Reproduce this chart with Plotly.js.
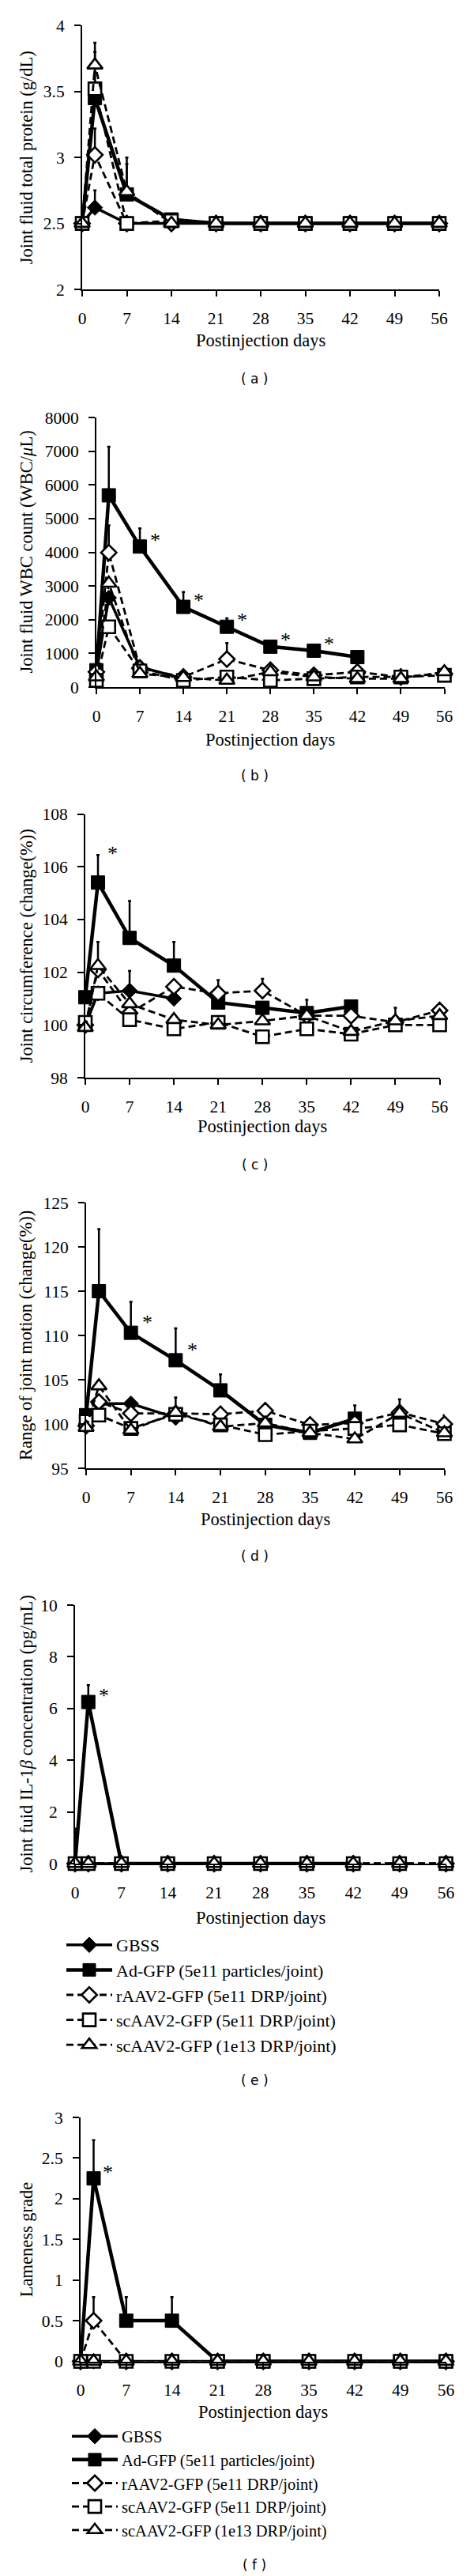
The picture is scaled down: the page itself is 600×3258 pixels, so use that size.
<!DOCTYPE html>
<html><head><meta charset="utf-8">
<script src="https://cdn.plot.ly/plotly-3.0.1.min.js"></script>
<style>html,body{margin:0;padding:0;background:#fff}#chart{width:600px;height:3258px}</style>
</head><body><div id="chart"></div>
<script>
// ---------- data ----------
const days = [0, 2, 7, 14, 21, 28, 35, 42, 49, 56];
const dayTicks = [0, 7, 14, 21, 28, 35, 42, 49, 56];
const seriesNames = ["GBSS", "Ad-GFP (5e11 particles/joint)", "rAAV2-GFP (5e11 DRP/joint)", "scAAV2-GFP (5e11 DRP/joint)", "scAAV2-GFP (1e13 DRP/joint)"];

// (a) joint fluid total protein (g/dL)
const gbssA = [2.5, 2.62, 2.5, 2.5, 2.5, 2.5, 2.5, 2.5, 2.5, 2.5];
const gbssAErr = [0, 0.13, 0, 0, 0, 0, 0, 0, 0, 0];
const adA = [2.5, 3.45, 2.72, 2.53, 2.5, 2.5, 2.5, 2.5, 2.5, 2.5];
const adAErr = [0, 0.35, 0.28, 0, 0, 0, 0, 0, 0, 0];
const raavA = [2.5, 3.02, 2.5, 2.5, 2.5, 2.5, 2.5, 2.5, 2.5, 2.5];
const raavAErr = [0, 0.2, 0, 0, 0, 0, 0, 0, 0, 0];
const sc5A = [2.5, 3.52, 2.5, 2.52, 2.5, 2.5, 2.5, 2.5, 2.5, 2.5];
const sc5AErr = [0, 0.13, 0, 0, 0, 0, 0, 0, 0, 0];
const sc13A = [2.5, 3.7, 2.74, 2.5, 2.5, 2.5, 2.5, 2.5, 2.5, 2.5];
const sc13AErr = [0, 0.17, 0.21, 0, 0, 0, 0, 0, 0, 0];

// (b) joint fluid WBC count (WBC/uL)
const gbssB = [450, 2650, 600, 250, null, null, null, null, null, null];
const gbssBErr = [0, 0, 0, 0, 0, 0, 0, 0, 0, 0];
const adB = [500, 5690, 4170, 2380, 1790, 1200, 1080, 890, null, null];
const adBErr = [0, 1440, 540, 440, 250, 0, 0, 0, 0, 0];
const raavB = [450, 3990, 560, 300, 830, 500, 350, 450, 300, 400];
const raavBErr = [0, 810, 0, 0, 480, 0, 0, 0, 0, 0];
const sc5B = [200, 1790, 480, 200, 300, 200, 250, 300, 300, 350];
const sc5BErr = [0, 0, 0, 0, 0, 0, 0, 0, 0, 0];
const sc13B = [300, 3080, 400, 280, 200, 450, 300, 250, 250, 450];
const sc13BErr = [0, 0, 0, 0, 0, 0, 0, 0, 0, 0];
const sigDaysB = [7, 14, 21, 28, 35];

// (c) joint circumference (change %)
const gbssC = [100.0, 101.2, 101.3, 101.0, null, null, null, null, null, null];
const gbssCErr = [0, 0, 0.75, 0, 0, 0, 0, 0, 0, 0];
const adC = [101.05, 105.4, 103.3, 102.25, 100.85, 100.65, 100.45, 100.7, null, null];
const adCErr = [0, 1.05, 1.4, 0.9, 0, 0, 0.5, 0, 0, 0];
const raavC = [100.0, 102.1, 100.45, 101.45, 101.2, 101.3, 100.35, 100.35, 100.1, 100.55];
const raavCErr = [0, 0, 0, 0, 0.5, 0.45, 0, 0, 0, 0];
const sc5C = [100.1, 101.2, 100.2, 99.85, 100.1, 99.55, 99.85, 99.65, 100.0, 100.0];
const sc5CErr = [0, 0, 0, 0, 0, 0, 0, 0, 0, 0];
const sc13C = [99.9, 102.25, 100.8, 100.2, 100.0, 100.15, 100.35, 99.75, 100.15, 100.35];
const sc13CErr = [0, 0.9, 0, 0, 0, 0, 0, 0, 0.5, 0];
const sigDaysC = [2];

// (d) range of joint motion (change %)
const gbssD = [99.8, 102.3, 102.3, 100.7, null, null, null, null, null, null];
const gbssDErr = [0, 0, 0, 0, 0, 0, 0, 0, 0, 0];
const adD = [101.0, 115.0, 110.3, 107.2, 103.8, 99.9, 99.0, 100.6, null, null];
const adDErr = [0, 7.0, 3.5, 3.6, 1.8, 0, 0, 1.5, 0, 0];
const raavD = [99.8, 102.5, 101.2, 101.2, 101.1, 101.5, 99.9, 100.1, 101.3, 100.0];
const raavDErr = [0, 0, 0, 0, 0, 0, 0, 0, 1.5, 1.0];
const sc5D = [100.3, 101.0, 99.5, 101.1, 99.9, 98.8, 99.2, 99.5, 99.9, 98.9];
const sc5DErr = [0, 0, 0, 0, 0, 0, 0, 0, 0, 0];
const sc13D = [99.6, 104.3, 99.3, 101.3, 99.7, 100.1, 99.0, 98.3, 101.2, 99.0];
const sc13DErr = [0, 0, 0, 1.7, 0, 0, 0, 0, 0, 0];
const sigDaysD = [7, 14];

// (e) joint fluid IL-1beta concentration (pg/mL)
const gbssE = [0, 0, 0, 0, 0, 0, 0, 0, null, null];
const gbssEErr = [0, 0, 0, 0, 0, 0, 0, 0, 0, 0];
const adE = [0, 6.25, 0, 0, 0, 0, 0, 0, null, null];
const adEErr = [1.35, 0.65, 0, 0, 0, 0, 0, 0, 0, 0];
const raavE = [0, 0, 0, 0, 0, 0, 0, 0, 0, 0];
const raavEErr = [0, 0, 0, 0, 0, 0, 0, 0, 0, 0];
const sc5E = [0, 0, 0, 0, 0, 0, 0, 0, 0, 0];
const sc5EErr = [0, 0, 0, 0, 0, 0, 0, 0, 0, 0];
const sc13E = [0, 0, 0, 0, 0, 0, 0, 0, 0, 0];
const sc13EErr = [0, 0, 0, 0, 0, 0, 0, 0, 0, 0];
const sigDaysE = [2];

// (f) lameness grade
const gbssF = [0, 0, 0, 0, 0, 0, 0, 0, 0, 0];
const gbssFErr = [0, 0, 0, 0, 0, 0, 0, 0, 0, 0];
const adF = [0, 2.25, 0.5, 0.5, 0, 0, 0, 0, 0, 0];
const adFErr = [0, 0.47, 0.29, 0.29, 0, 0, 0, 0, 0, 0];
const raavF = [0, 0.5, 0, 0, 0, 0, 0, 0, 0, 0];
const raavFErr = [0, 0.29, 0, 0, 0, 0, 0, 0, 0, 0];
const sc5F = [0, 0, 0, 0, 0, 0, 0, 0, 0, 0];
const sc5FErr = [0, 0, 0, 0, 0, 0, 0, 0, 0, 0];
const sc13F = [0, 0, 0, 0, 0, 0, 0, 0, 0, 0];
const sc13FErr = [0, 0, 0, 0, 0, 0, 0, 0, 0, 0];
const sigDaysF = [2];

// y-axis ticks and titles
const yTicksA = [2, 2.5, 3, 3.5, 4];
const yTicksB = [0, 1000, 2000, 3000, 4000, 5000, 6000, 7000, 8000];
const yTicksC = [98, 100, 102, 104, 106, 108];
const yTicksD = [95, 100, 105, 110, 115, 120, 125];
const yTicksE = [0, 2, 4, 6, 8, 10];
const yTicksF = [0, 0.5, 1, 1.5, 2, 2.5, 3];
const yTitles = ["Joint fluid total protein (g/dL)", "Joint fluid WBC count (WBC/<i>μ</i>L)", "Joint circumference (change(%))", "Range of joint motion (change(%))", "Joint fuid IL-1<i>β</i> concentration (pg/mL)", "Lameness grade"];
const xTitle = "Postinjection days";
const panelLabels = ["( a )", "( b )", "( c )", "( d )", "( e )", "( f )"];

// ---------- layout geometry (pixels) ----------
const W = 600, H = 3258;
const SERIF = "Liberation Serif, Times New Roman, serif";
const LEG_ITEM_W = 58;
const panels = [
  {vals: [gbssA, adA, raavA, sc5A, sc13A], errs: [gbssAErr, adAErr, raavAErr, sc5AErr, sc13AErr], yr: [2, 4], yt: yTicksA, sig: [], xL: 104, xR: 556, yT: 32.3, yB: 366, titleY: 431, labY: 479, star: [0, 0], legend: null},
  {vals: [gbssB, adB, raavB, sc5B, sc13B], errs: [gbssBErr, adBErr, raavBErr, sc5BErr, sc13BErr], yr: [0, 8000], yt: yTicksB, sig: sigDaysB, xL: 122, xR: 562.5, yT: 528, yB: 869, titleY: 935, labY: 981, star: [19, 12], legend: null},
  {vals: [gbssC, adC, raavC, sc5C, sc13C], errs: [gbssCErr, adCErr, raavCErr, sc5CErr, sc13CErr], yr: [98, 108], yt: yTicksC, sig: sigDaysC, xL: 108, xR: 556.5, yT: 1029.5, yB: 1363, titleY: 1425, labY: 1473, star: [18, 41], legend: null},
  {vals: [gbssD, adD, raavD, sc5D, sc13D], errs: [gbssDErr, adDErr, raavDErr, sc5DErr, sc13DErr], yr: [95, 125], yt: yTicksD, sig: sigDaysD, xL: 109, xR: 562.5, yT: 1521, yB: 1857, titleY: 1921, labY: 1968, star: [21, 17], legend: null},
  {vals: [gbssE, adE, raavE, sc5E, sc13E], errs: [gbssEErr, adEErr, raavEErr, sc5EErr, sc13EErr], yr: [0, 10], yt: yTicksE, sig: sigDaysE, xL: 95, xR: 564.5, yT: 2030, yB: 2357, titleY: 2425.5, labY: 2631, star: [20, 12], legend: {name: 'legend', x: 79, y: 2439, size: 22}},
  {vals: [gbssF, adF, raavF, sc5F, sc13F], errs: [gbssFErr, adFErr, raavFErr, sc5FErr, sc13FErr], yr: [0, 3], yt: yTicksF, sig: sigDaysF, xL: 102, xR: 564.5, yT: 2678, yB: 2986.5, titleY: 3050.5, labY: 3244, star: [18, 12], legend: {name: 'legend2', x: 86, y: 3061.4, size: 20.5}}
];

const styles = [
  {line: {color: 'black', width: 3.5, dash: 'solid'}, marker: {symbol: 'diamond', size: 15, color: 'black', line: {color: 'black', width: 1}}},
  {line: {color: 'black', width: 4.5, dash: 'solid'}, marker: {symbol: 'square', size: 17, color: 'black', line: {color: 'black', width: 1}}},
  {line: {color: 'black', width: 2.8, dash: '9px,5px'}, marker: {symbol: 'diamond', size: 15, color: 'white', line: {color: 'black', width: 2.6}}},
  {line: {color: 'black', width: 2.8, dash: '9px,5px'}, marker: {symbol: 'square', size: 16, color: 'white', line: {color: 'black', width: 2.6}}},
  {line: {color: 'black', width: 2.8, dash: '9px,5px'}, marker: {symbol: 'triangle-up', size: 17, color: 'white', line: {color: 'black', width: 2.6}}}
];

const px = v => v / W;
const py = v => 1 - v / H;

const traces = [];
const layout = {
  width: W, height: H, margin: {l: 0, r: 0, t: 0, b: 0},
  paper_bgcolor: 'white', plot_bgcolor: 'white', showlegend: true,
  annotations: []
};

panels.forEach((p, i) => {
  const n = i + 1;
  const xk = n === 1 ? 'xaxis' : 'xaxis' + n;
  const yk = n === 1 ? 'yaxis' : 'yaxis' + n;
  const xr = n === 1 ? 'x' : 'x' + n;
  const yr = n === 1 ? 'y' : 'y' + n;
  layout[xk] = {
    domain: [px(p.xL), px(p.xR)], range: [0, 56], anchor: yr,
    tickmode: 'array', tickvals: dayTicks, ticktext: dayTicks.map(String),
    showline: true, linecolor: 'black', linewidth: 2, ticks: 'outside', ticklen: 7, tickwidth: 2, tickcolor: 'black',
    showgrid: false, zeroline: false, ticklabelstandoff: 9,
    tickfont: {family: SERIF, size: 21.5, color: 'black'}, fixedrange: true
  };
  layout[yk] = {
    domain: [py(p.yB), py(p.yT)], range: p.yr, anchor: xr,
    tickmode: 'array', tickvals: p.yt, ticktext: p.yt.map(String),
    showline: true, linecolor: 'black', linewidth: 2, ticks: 'outside', ticklen: 8, tickwidth: 2, tickcolor: 'black',
    showgrid: false, zeroline: false, ticklabelstandoff: 8,
    tickfont: {family: SERIF, size: 21.5, color: 'black'}, fixedrange: true
  };
  p.vals.forEach((vals, s) => {
    const st = styles[s];
    const t = {
      type: 'scatter', mode: 'lines+markers', x: days, y: vals, xaxis: xr, yaxis: yr,
      name: seriesNames[s], line: st.line, marker: st.marker, cliponaxis: false,
      error_y: {type: 'data', symmetric: false, array: p.errs[s], arrayminus: days.map(() => 0), color: 'black', thickness: 2.5, width: 2},
      showlegend: !!p.legend, hoverinfo: 'skip'
    };
    if (p.legend) t.legend = p.legend.name;
    traces.push(t);
  });
  if (p.legend) {
    layout[p.legend.name] = {
      x: px(p.legend.x), y: py(p.legend.y), xanchor: 'left', yanchor: 'top',
      font: {family: SERIF, size: p.legend.size, color: 'black'}, bgcolor: 'rgba(0,0,0,0)',
      borderwidth: 0, itemwidth: LEG_ITEM_W, traceorder: 'normal', tracegroupgap: 0, itemclick: false
    };
  }
  // y title
  layout.annotations.push({xref: 'paper', yref: 'paper', x: px(33), y: py((p.yT + p.yB) / 2), text: yTitles[i], textangle: -90, showarrow: false, xanchor: 'center', yanchor: 'middle', font: {family: SERIF, size: 22.5, color: 'black'}});
  // x title
  layout.annotations.push({xref: 'paper', yref: 'paper', x: px((p.xL + p.xR) / 2), y: py(p.titleY), text: xTitle, showarrow: false, xanchor: 'center', yanchor: 'middle', font: {family: SERIF, size: 22.5, color: 'black'}});
  // panel label
  layout.annotations.push({xref: 'paper', yref: 'paper', x: px(322), y: py(p.labY), text: panelLabels[i], showarrow: false, xanchor: 'center', yanchor: 'middle', font: {family: 'DejaVu Sans, sans-serif', size: 17, color: 'black'}});
  // significance stars next to Ad-GFP points
  p.sig.forEach(d => {
    const idx = days.indexOf(d);
    layout.annotations.push({xref: xr, yref: yr, x: d, y: p.vals[1][idx], text: '*', showarrow: false, xanchor: 'center', yanchor: 'middle', xshift: p.star[0], yshift: p.star[1] - 4, font: {family: SERIF, size: 26, color: 'black'}});
  });
});

Plotly.newPlot('chart', traces, layout, {displayModeBar: false, staticPlot: true});
</script>
</body></html>
